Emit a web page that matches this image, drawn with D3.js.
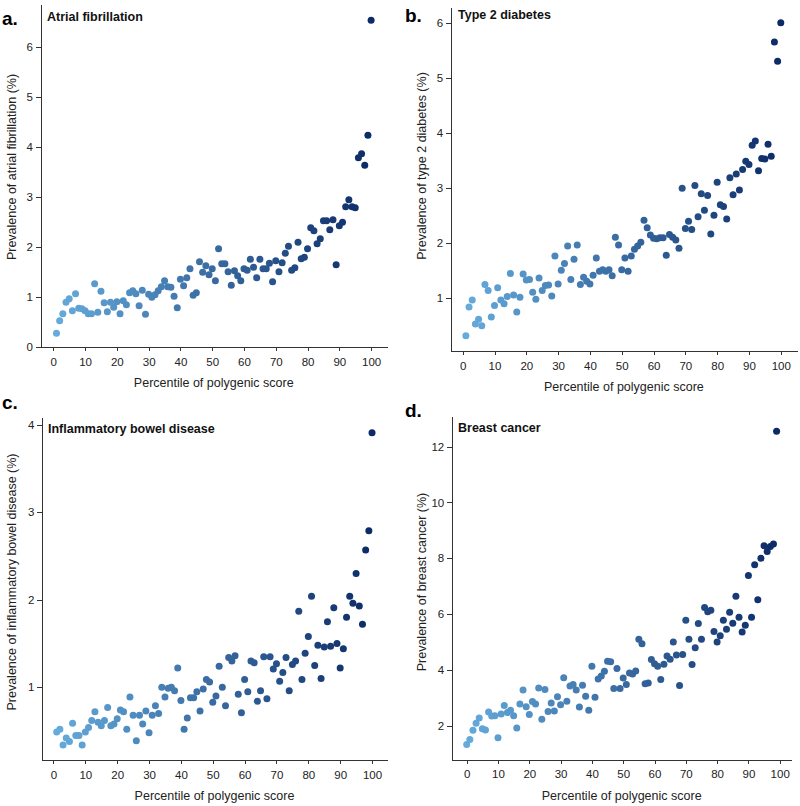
<!DOCTYPE html>
<html>
<head>
<meta charset="utf-8">
<script src="https://cdn.jsdelivr.net/npm/d3@7"></script>
<style>
  body { margin: 0; background: #fff; }
  svg { display: block; font-family: "Liberation Sans", Arial, sans-serif; }
  .axis path, .axis line { stroke: #333; stroke-width: 1; shape-rendering: crispEdges; }
  .axis text { fill: #222; font-size: 11.5px; font-family: "Liberation Sans", Arial, sans-serif; }
</style>
</head>
<body>
<svg id="chart" width="800" height="806"></svg>
<script>
// ---------- DATA ----------
const xTicks = [0, 10, 20, 30, 40, 50, 60, 70, 80, 90, 100];

const afPercentiles = d3.range(1, 101);
const afValues = [
  0.28, 0.53, 0.67, 0.90, 0.97, 0.73, 1.07, 0.78, 0.77, 0.73,
  0.67, 0.67, 1.27, 0.70, 1.12, 0.89, 0.71, 0.90, 0.80, 0.91,
  0.67, 0.93, 0.85, 1.09, 1.13, 1.07, 0.83, 1.14, 0.66, 1.06,
  1.00, 1.05, 1.13, 1.21, 1.33, 1.21, 1.20, 1.02, 0.79, 1.36,
  1.23, 1.39, 1.57, 1.04, 1.09, 1.71, 1.50, 1.63, 1.45, 1.57,
  1.33, 1.97, 1.67, 1.67, 1.51, 1.24, 1.53, 1.43, 1.33, 1.57,
  1.54, 1.76, 1.60, 1.39, 1.76, 1.57, 1.57, 1.68, 1.31, 1.73,
  1.51, 1.69, 1.88, 2.02, 1.54, 1.59, 2.10, 1.77, 1.80, 1.97,
  2.39, 2.33, 2.07, 2.17, 2.53, 2.53, 2.35, 2.55, 1.65, 2.43,
  2.50, 2.81, 2.95, 2.81, 2.79, 3.79, 3.87, 3.64, 4.24, 6.54
];
const afYTicks = [0, 1, 2, 3, 4, 5, 6];

const t2dPercentiles = d3.range(1, 101);
const t2dValues = [
  0.31, 0.83, 0.96, 0.52, 0.61, 0.49, 1.24, 1.13, 0.65, 0.86,
  1.18, 0.96, 0.89, 1.02, 1.44, 1.05, 0.74, 1.01, 1.43, 1.32,
  1.33, 1.10, 0.97, 1.36, 1.13, 1.22, 1.23, 1.03, 1.76, 1.25,
  1.50, 1.62, 1.94, 1.33, 1.70, 1.96, 1.24, 1.37, 1.30, 1.25,
  1.41, 1.72, 1.48, 1.51, 1.48, 1.51, 1.40, 2.10, 1.96, 1.51,
  1.72, 1.48, 1.76, 1.88, 1.94, 2.01, 2.41, 2.27, 2.14, 2.08,
  2.07, 2.09, 2.09, 1.77, 2.15, 2.10, 2.05, 1.90, 2.99, 2.26,
  2.39, 2.24, 3.04, 2.47, 2.89, 2.59, 2.86, 2.16, 2.50, 3.10,
  2.69, 2.66, 2.43, 3.18, 2.87, 3.25, 2.96, 3.33, 3.48, 3.42,
  3.77, 3.85, 3.31, 3.53, 3.52, 3.79, 3.57, 5.65, 5.30, 6.00
];
const t2dYTicks = [1, 2, 3, 4, 5, 6];

const ibdPercentiles = d3.range(1, 101);
const ibdValues = [
  0.49, 0.52, 0.34, 0.42, 0.38, 0.59, 0.45, 0.45, 0.34, 0.49,
  0.54, 0.62, 0.72, 0.60, 0.56, 0.62, 0.77, 0.56, 0.58, 0.64,
  0.74, 0.72, 0.52, 0.89, 0.68, 0.39, 0.68, 0.58, 0.73, 0.48,
  0.68, 0.79, 0.70, 1.00, 0.89, 0.99, 1.00, 0.96, 1.22, 0.85,
  0.52, 0.65, 0.88, 0.88, 0.95, 0.73, 0.98, 1.09, 1.06, 0.83,
  0.90, 1.24, 1.00, 0.79, 1.34, 1.30, 1.36, 0.92, 0.71, 1.09,
  0.95, 1.30, 1.28, 0.84, 0.96, 1.35, 0.87, 1.35, 1.21, 1.27,
  1.07, 1.17, 1.34, 0.96, 1.26, 1.30, 1.87, 1.09, 1.39, 1.58,
  2.04, 1.25, 1.48, 1.10, 1.46, 1.75, 1.47, 1.91, 1.50, 1.22,
  1.44, 1.80, 2.04, 1.96, 2.30, 1.93, 1.72, 2.57, 2.79, 3.91
];
const ibdYTicks = [1, 2, 3, 4];

const bcPercentiles = d3.range(0, 100);
const bcValues = [
  1.33, 1.51, 1.84, 2.09, 2.28, 1.89, 1.85, 2.49, 2.35, 2.36,
  1.57, 2.42, 2.72, 2.47, 2.55, 2.36, 1.92, 2.78, 3.28, 2.68,
  2.40, 2.87, 2.78, 3.35, 2.23, 3.30, 2.51, 2.81, 2.53, 3.04,
  2.75, 3.72, 2.88, 3.42, 3.48, 3.28, 2.67, 3.45, 3.06, 2.55,
  4.13, 3.02, 3.67, 3.78, 3.95, 4.31, 4.29, 3.33, 4.05, 3.33,
  3.71, 3.48, 3.89, 3.85, 3.96, 5.10, 4.94, 3.50, 3.53, 4.37,
  4.22, 4.13, 3.66, 4.20, 4.50, 4.38, 5.00, 4.53, 3.44, 4.55,
  5.78, 5.10, 4.19, 4.79, 5.66, 5.10, 6.24, 6.08, 6.14, 5.38,
  5.00, 5.22, 5.78, 5.46, 6.07, 5.67, 6.64, 5.89, 5.36, 5.60,
  7.38, 5.89, 7.77, 6.51, 8.00, 8.45, 8.24, 8.42, 8.51, 12.55
];
const bcYTicks = [2, 4, 6, 8, 10, 12];

// ---------- LAYOUT ----------
const svg = d3.select("#chart");
const color = d3.interpolateRgb("#65abdc", "#0c2a66");

const panels = [
  { letter: "a.", lx: 2, ly: 25, title: "Atrial fibrillation", tx: 47, ty: 20.5,
    ylabel: "Prevalence of atrial fibrillation (%)", ylx: 12, yly: 167,
    xs: afPercentiles, vals: afValues, yTicks: afYTicks,
    left: 40.5, right: 387, xdom: [-4.03, 105.0],
    top: 4, bottom: 347.3, ydom: [0, 6.866] },
  { letter: "b.", lx: 405, ly: 22, title: "Type 2 diabetes", tx: 458, ty: 18.5,
    ylabel: "Prevalence of type 2 diabetes (%)", ylx: 422, yly: 166,
    xs: t2dPercentiles, vals: t2dValues, yTicks: t2dYTicks,
    left: 450.7, right: 797, xdom: [-3.77, 105.1],
    top: 7, bottom: 351, ydom: [0.031, 6.285] },
  { letter: "c.", lx: 2, ly: 409, title: "Inflammatory bowel disease", tx: 48, ty: 433,
    ylabel: "Prevalence of inflammatory bowel disease (%)", ylx: 12, yly: 582,
    xs: ibdPercentiles, vals: ibdValues, yTicks: ibdYTicks,
    left: 42, right: 387, xdom: [-3.61, 104.7],
    top: 417, bottom: 760, ydom: [0.169, 4.089] },
  { letter: "d.", lx: 405, ly: 417, title: "Breast cancer", tx: 458, ty: 432,
    ylabel: "Prevalence of breast cancer (%)", ylx: 422, yly: 582,
    xs: bcPercentiles, vals: bcValues, yTicks: bcYTicks,
    left: 451.7, right: 791.7, xdom: [-4.79, 103.83],
    top: 416, bottom: 759.5, ydom: [0.789, 13.1] }
];

panels.forEach(p => {
  const x = d3.scaleLinear().domain(p.xdom).range([p.left, p.right]);
  const y = d3.scaleLinear().domain(p.ydom).range([p.bottom, p.top]);
  const g = svg.append("g");

  g.append("g").attr("class", "axis")
    .attr("transform", `translate(0,${p.bottom})`)
    .call(d3.axisBottom(x).tickValues(xTicks).tickSize(4).tickSizeOuter(0).tickPadding(6.5).tickFormat(d3.format("d")));

  g.append("g").attr("class", "axis")
    .attr("transform", `translate(${p.left},0)`)
    .call(d3.axisLeft(y).tickValues(p.yTicks).tickSize(5).tickSizeOuter(0).tickPadding(2.5).tickFormat(d3.format("d")));

  const n = p.vals.length;
  g.append("g").selectAll("circle")
    .data(p.vals)
    .join("circle")
    .attr("cx", (d, i) => x(p.xs[i]))
    .attr("cy", d => y(d))
    .attr("r", 3.5)
    .attr("fill", (d, i) => color(i / (n - 1)));

  g.append("text").attr("x", p.lx).attr("y", p.ly)
    .attr("font-size", 19).attr("font-weight", "bold").attr("fill", "#000")
    .text(p.letter);

  g.append("text").attr("x", p.tx).attr("y", p.ty)
    .attr("font-size", 12.5).attr("font-weight", "bold").attr("fill", "#111")
    .text(p.title);

  g.append("text")
    .attr("x", (p.left + p.right) / 2 - 0)
    .attr("y", p.bottom + 40)
    .attr("text-anchor", "middle").attr("font-size", 12.5).attr("fill", "#222")
    .text("Percentile of polygenic score");

  g.append("text")
    .attr("transform", `translate(${p.ylx + 4},${p.yly}) rotate(-90)`)
    .attr("text-anchor", "middle").attr("font-size", 12.5).attr("fill", "#222")
    .text(p.ylabel);
});
</script>
</body>
</html>
